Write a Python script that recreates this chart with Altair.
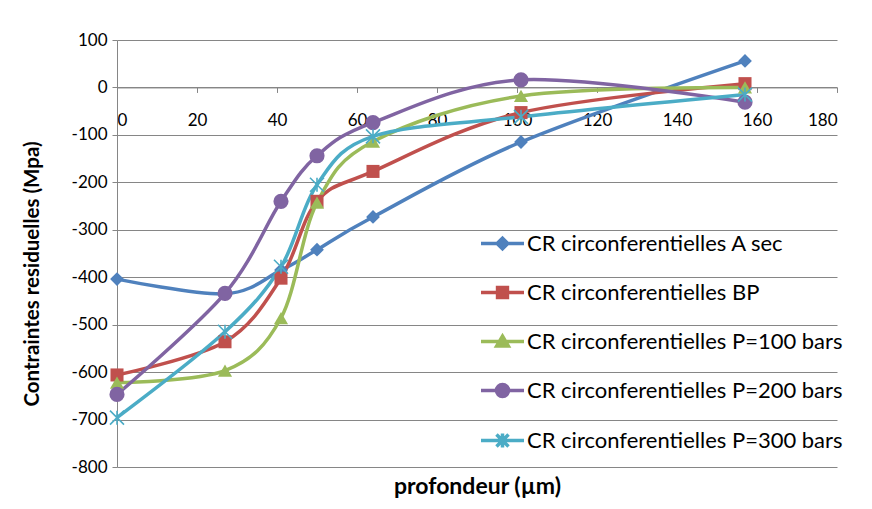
import altair as alt
import pandas as pd

depth = [0, 27, 41, 50, 64, 101, 157]
series_names = [
    "CR circonferentielles A sec",
    "CR circonferentielles BP",
    "CR circonferentielles P=100 bars",
    "CR circonferentielles P=200 bars",
    "CR circonferentielles P=300 bars",
]
a_sec = [-404, -435, -385, -342, -273, -115, 56]
bp = [-606, -536, -402, -240, -177, -53, 8]
p100 = [-622, -597, -486, -243, -114, -18, 0]
p200 = [-647, -434, -240, -144, -74, 16, -31]
p300 = [-696, -515, -378, -205, -103, -62, -15]
colors = ["#4F81BD", "#C0504D", "#9BBB59", "#8064A2", "#4BACC6"]
y_ticks = [-800, -700, -600, -500, -400, -300, -200, -100, 0, 100]
x_ticks = [0, 20, 40, 60, 80, 100, 120, 140, 160, 180]

rows = []
for name, vals in zip(series_names, [a_sec, bp, p100, p200, p300]):
    for d, v in zip(depth, vals):
        rows.append({"serie": name, "profondeur": d, "contrainte": v})
df = pd.DataFrame(rows)

W, H = 720, 427
y0_offset = -(H - H * 100 / 900)

color_scale = alt.Scale(domain=series_names, range=colors)
label_expr = "datum.value < 0 ? '-' + abs(datum.value) : '' + datum.value"

x_enc = alt.X(
    "profondeur:Q",
    scale=alt.Scale(domain=[0, 180], nice=False),
    axis=alt.Axis(
        values=x_ticks, grid=False, offset=y0_offset, tickSize=5, labelPadding=20,
        title="profondeur (µm)", titleY=399, titleBaseline="middle",
        titleFont="Lato", titleFontSize=23, titleFontWeight="bold",
    ),
)
y_enc = alt.Y(
    "contrainte:Q",
    scale=alt.Scale(domain=[-800, 100], nice=False),
    axis=alt.Axis(
        values=y_ticks, grid=True, tickSize=5, labelPadding=5, labelExpr=label_expr,
        title="Contraintes residuelles (Mpa)", titleX=-85, titleY=H / 2 + 20,
        titleAngle=-90, titleBaseline="middle", titleAlign="center",
        titleFont="Lato", titleFontSize=20.5, titleFontWeight="bold",
    ),
)

base = alt.Chart(df)

lines = base.mark_line(interpolate="cardinal", strokeWidth=3.5).encode(
    x=x_enc, y=y_enc,
    color=alt.Color("serie:N", scale=color_scale, legend=None),
    detail="serie:N",
)

star_path = "M-1,-1L1,1M-1,1L1,-1M0,-1L0,1"
marker_shapes = ["diamond", "square", "triangle-up", "circle", star_path]
marker_sizes = [190, 170, 200, 230, 196]
point_layers = []
for i, name in enumerate(series_names):
    filled = i < 4
    mk = dict(shape=marker_shapes[i], size=marker_sizes[i], opacity=1, filled=filled)
    if not filled:
        mk["strokeWidth"] = 1.6
    point_layers.append(
        base.transform_filter(alt.datum.serie == name).mark_point(**mk).encode(
            x="profondeur:Q", y="contrainte:Q",
            color=alt.Color("serie:N", scale=color_scale, legend=None),
        )
    )

legend_paths = [
    "M-1,0L1,0M0,-0.25L0.25,0L0,0.25L-0.25,0Z",
    "M-1,0L1,0M-0.23,-0.23L0.23,-0.23L0.23,0.23L-0.23,0.23Z",
    "M-1,0L1,0M0,-0.25L0.27,0.21L-0.27,0.21Z",
    "M-1,0L1,0M-0.28,0A0.28,0.28 0 1,1 0.28,0A0.28,0.28 0 1,1 -0.28,0Z",
    "M-1,0L1,0M-0.28,-0.28L0.28,0.28M-0.28,0.28L0.28,-0.28M0,-0.32L0,0.32",
]
leg = alt.Legend(
    title=None, orient="none", legendX=362, legendY=180, padding=0,
    labelFont="Lato", labelFontSize=22, labelColor="black", labelOffset=1,
    labelLimit=500, symbolSize=1849, symbolStrokeWidth=3.5,
    rowPadding=13,
)
# legend-only layer: no visible marks (empty after filter), domain is explicit
legend_layer = base.transform_filter("datum.profondeur < -1").mark_point(filled=True, opacity=1).encode(
    x="profondeur:Q", y="contrainte:Q",
    color=alt.Color("serie:N", scale=color_scale, legend=leg),
    stroke=alt.Stroke("serie:N", scale=color_scale, legend=leg),
    shape=alt.Shape("serie:N", scale=alt.Scale(domain=series_names, range=legend_paths), legend=leg),
)

chart = alt.layer(lines, *point_layers, legend_layer).resolve_scale(
    color="independent", shape="independent", stroke="independent"
).properties(
    width=W, height=H,
    autosize=alt.AutoSizeParams(type="none"),
    padding={"left": 109, "top": 32, "right": 27, "bottom": 33},
).configure_view(stroke=None).configure_axis(
    labelFont="Lato", labelFontSize=17, labelColor="black",
    domainColor="#868686", tickColor="#868686", gridColor="#868686",
    domainWidth=1, tickWidth=1, gridWidth=1, titleColor="black",
)

chart.save("out.html", embed_options={"renderer": "svg", "actions": False})
